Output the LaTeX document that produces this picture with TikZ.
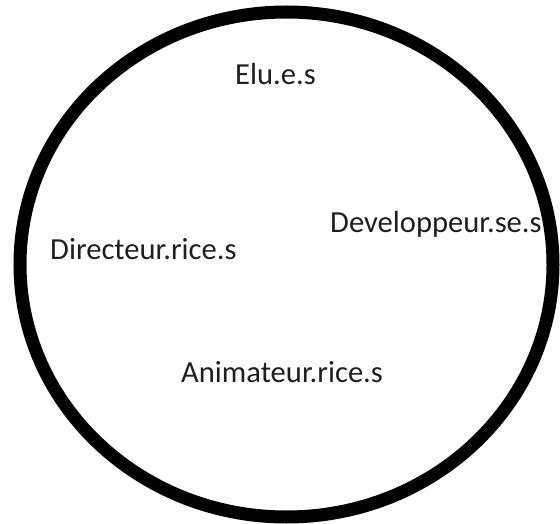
\documentclass[tikz,border=0pt]{standalone}
\usepackage{fontspec}
\setmainfont{Carlito}
\begin{document}
\begin{tikzpicture}[x=1pt,y=-1pt,
  lbl/.style={anchor=base west,inner sep=0pt,font=\fontsize{30.6}{33}\selectfont,text=black!88}]
\useasboundingbox (0,0) rectangle (560,524);
\draw[line width=13pt] (286.5,264.5) ellipse [x radius=266.5, y radius=252.5];
\node[lbl] (elu) at (235,85) {Elu.e.s};
\node[lbl] (dir) at (50,259) {Directeur.rice.s};
\node[lbl] (dev) at (330,233) {Developpeur.se.s};
\node[lbl] (ani) at (181,382) {Animateur.rice.s};
\end{tikzpicture}
\end{document}
